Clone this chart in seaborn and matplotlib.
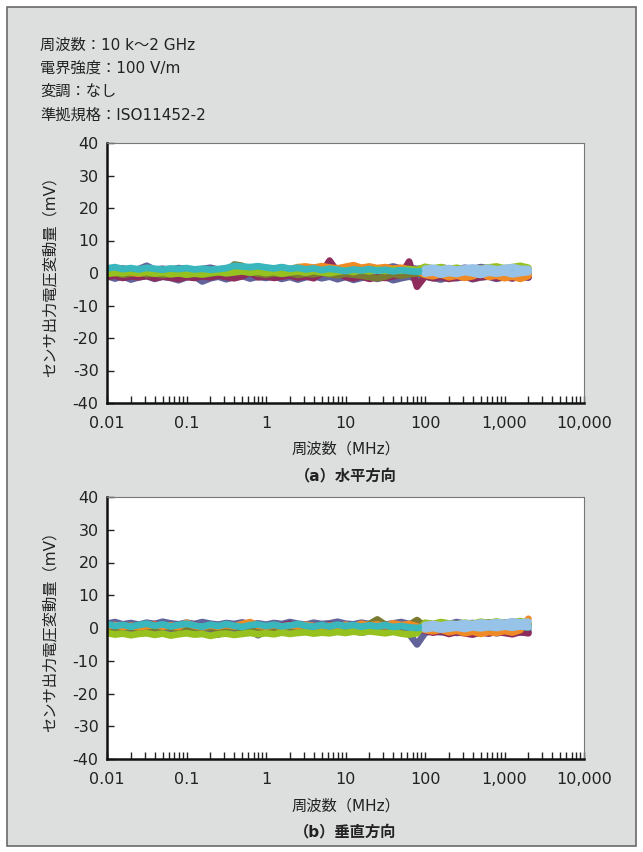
import matplotlib
matplotlib.use("Agg")
import matplotlib.pyplot as plt
import seaborn as sns
import pandas as pd
from matplotlib.patches import Rectangle
from matplotlib.ticker import FixedLocator, NullFormatter

# ---------------- data ----------------
FREQ = [0.01, 0.0126, 0.0158, 0.02, 0.0251, 0.0316, 0.0398, 0.0501, 0.0631, 0.0794,
        0.1, 0.126, 0.158, 0.2, 0.251, 0.316, 0.398, 0.501, 0.631, 0.794,
        1, 1.26, 1.58, 2, 2.51, 3.16, 3.98, 5.01, 6.31, 7.94,
        10, 12.6, 15.8, 20, 25.1, 31.6, 39.8, 50.1, 63.1, 79.4,
        100, 126, 158, 200, 251, 316, 398, 501, 631, 794,
        1000, 1260, 1580, 2000]
LB_FREQ = [100, 126, 158, 200, 251, 316, 398, 501, 631, 794, 1000, 1260, 1580, 2000]

X_TICKS = [0.01, 0.1, 1, 10, 100, 1000, 10000]
X_TICK_LABELS = ["0.01", "0.1", "1", "10", "100", "1,000", "10,000"]
Y_TICKS = [-40, -30, -20, -10, 0, 10, 20, 30, 40]
Y_TICK_LABELS = ["-40", "-30", "-20", "-10", "0", "10", "20", "30", "40"]

# (a) horizontal
A_SLATE_LO = [-0.9, -1.7, -1.0, -2.0, -1.3, -0.9, -1.8, -1.1, -1.5, -2.2,
              -1.3, -1.0, -2.6, -1.6, -1.1, -1.9, -1.2, -0.9, -1.7, -1.1,
              -1.5, -1.0, -1.8, -1.2, -2.0, -1.3, -0.9, -1.6, -1.1, -1.9,
              -1.2, -2.1, -1.5, -1.0, -1.8, -1.2, -2.2, -1.6, -1.1, -1.7,
              -1.0, -1.5, -2.0, -1.2, -1.6, -1.0, -1.9, -1.3, -1.1, -1.8,
              -1.2, -1.6, -1.0, -1.4]
A_SLATE_HI = [1.0, 0.6, 1.4, 0.8, 1.2, 2.2, 1.0, 1.3, 0.9, 1.5,
              1.1, 0.7, 1.2, 1.6, 1.0, 1.4, 1.1, 1.8, 1.3, 1.0,
              1.5, 1.2, 1.7, 1.1, 1.3, 0.9, 1.6, 1.2, 1.9, 1.4,
              1.0, 1.5, 1.2, 1.8, 1.1, 1.4, 2.0, 1.3, 1.6, 1.2,
              1.5, 1.1, 1.7, 1.3, 1.0, 1.6, 1.2, 1.8, 1.4, 1.1,
              1.5, 1.2, 1.6, 1.0]
A_MAROON = [-1.2, -0.8, -1.5, -1.0, -1.3, -0.9, -1.6, -1.1, -1.4, -1.8,
            -1.2, -1.5, -1.0, -1.3, -0.8, -1.2, -1.6, -1.0, 0.2, -1.3,
            -1.0, -1.5, -1.1, -0.7, -1.4, -1.0, -1.6, 0.0, 3.8, 0.2,
            -1.2, -1.6, -1.0, -1.8, -1.3, -1.5, -1.0, -0.6, 3.5, -4.2,
            -1.0, -1.6, -1.2, -1.8, -1.4, -1.1, -1.7, -1.3, -1.0, -1.5,
            -1.2, -1.6, -1.1, -1.3]
A_OLIVE = [-0.3, 0.0, -0.5, -0.2, 0.1, -0.4, -0.1, -0.6, -0.2, 0.0,
           -0.4, -0.1, -0.5, -0.2, 0.2, 0.5, 2.6, 2.2, 0.4, -0.2,
           -0.5, -0.1, -0.3, 0.0, -0.6, -0.2, -0.4, 0.1, -0.3, -0.7,
           -0.2, -0.5, -0.8, -1.2, -1.6, -1.1, -0.3, -0.8, -0.4, -0.1,
           -0.5, -0.2, -0.6, -0.3, 0.0, -0.4, -0.1, -0.5, -0.2, -0.6,
           -0.3, 0.0, -0.4, -0.2]
A_ORANGE = [0.3, 0.0, 0.5, 0.2, -0.2, 0.4, 0.1, 0.6, 0.2, -0.1,
            0.3, 0.0, 0.5, 0.8, 0.3, 0.6, 1.0, 0.7, 1.2, 0.9,
            1.3, 1.0, 1.5, 1.1, 1.8, 2.0, 1.6, 2.1, 1.7, 1.4,
            1.9, 2.4, 1.6, 2.0, 1.5, 1.8, 1.3, 1.6, 1.1, 0.8,
            -0.6, -1.0, -0.4, -1.3, -0.8, -1.5, -1.0, 0.0, -1.2, -0.8,
            -1.6, -1.1, -1.8, -0.9]
A_GREEN = [-0.3, 0.2, -0.1, 0.4, 0.0, 0.3, -0.2, 0.1, -0.4, -0.1,
           -0.5, -0.2, -0.4, 0.0, 0.3, -0.1, 0.2, 0.5, 0.1, 0.4,
           0.0, 0.3, -0.2, 0.2, 0.5, 0.1, 0.6, 0.2, -0.1, 0.4,
           0.8, 0.3, 0.9, 0.5, 1.1, 0.6, 1.0, 0.7, 1.2, 0.9,
           1.9, 1.4, 1.8, 1.2, 1.6, 1.0, 1.5, 1.3, 1.7, 2.0,
           1.4, 1.8, 2.2, 1.6]
A_TEAL = [1.4, 1.8, 1.2, 1.5, 1.1, 1.6, 1.3, 1.0, 1.4, 1.2,
          1.5, 1.1, 1.3, 1.0, 1.2, 1.5, 2.2, 2.0, 1.8, 2.1,
          1.7, 1.4, 1.8, 1.3, 1.6, 1.1, 1.4, 0.9, 1.3, 1.0,
          0.6, 1.1, 0.8, 1.2, 0.7, 1.0, 0.5, 0.9, 0.6, 0.4,
          0.6, 0.9, 0.4, 0.8, 1.1, 0.5, 0.9, 0.6, 1.0, 0.7,
          0.5, 0.8, 1.0, 0.6]
A_LBLUE_1 = [1.3, 1.6, 1.1, 1.5, 1.0, 1.4, 1.7, 1.2, 1.6, 1.1, 1.5, 1.8, 1.3, 1.2]
A_LBLUE_2 = [-0.2, 0.2, -0.5, 0.0, -0.3, 0.3, -0.1, -0.6, 0.1, -0.2, 0.2, -0.4, 0.0, 0.3]

# (b) vertical
B_SLATE_LO = [-0.6, -1.0, -0.5, -1.2, -0.8, -0.4, -1.1, -0.7, -1.3, -0.9,
              -0.5, -1.0, -0.7, -1.2, -2.0, -0.8, -0.5, -1.1, -0.7, -2.2,
              -0.9, -0.6, -1.2, -0.8, -0.5, -1.0, -0.7, -1.3, -0.9, -0.6,
              -1.1, -0.8, -1.4, -0.9, -0.6, -1.2, -0.8, -1.1, -1.8, -5.0,
              -1.5, -0.8, -1.3, -0.9, -1.5, -1.1, -0.7, -1.3, -1.0, -1.6,
              -1.2, -0.8, -1.4, -1.0]
B_SLATE_HI = [1.3, 1.8, 1.1, 1.5, 1.0, 1.6, 1.2, 1.9, 1.4, 1.1,
              1.6, 1.2, 1.8, 1.3, 1.0, 1.5, 1.2, 1.7, 1.1, 1.4,
              1.0, 1.5, 1.2, 1.8, 1.3, 1.0, 1.6, 1.2, 1.4, 1.9,
              1.3, 1.1, 1.6, 1.2, 1.5, 1.0, 1.4, 1.8, 1.2, 1.0,
              1.4, 1.1, 1.6, 1.2, 1.8, 1.3, 1.5, 1.1, 1.7, 1.3,
              1.6, 1.9, 1.4, 1.2]
B_MAROON = [0.8, 0.3, 1.1, 0.5, 0.0, 0.7, 1.2, 0.4, 0.9, 0.2,
            0.6, 1.0, 0.3, 0.8, 0.1, 0.5, 0.9, 0.2, 0.6, 1.1,
            0.4, 0.0, 0.7, 1.3, 0.5, 0.9, 0.2, 0.6, 1.0, 0.4,
            0.8, 0.3, 1.2, 0.6, 1.4, 0.9, 0.5, 0.2, 0.7, 0.3,
            -0.8, -1.4, -1.0, -1.8, -1.2, -1.6, -2.0, -1.3, -1.7, -1.1,
            -1.5, -1.9, -1.2, -1.6]
B_OLIVE = [0.2, -0.2, 0.4, 0.0, -0.3, 0.3, -0.1, 0.5, 0.1, -0.2,
           0.2, -0.1, 0.4, 0.0, -0.3, 0.1, 0.3, -0.2, 0.2, 0.0,
           -0.2, 0.3, 0.0, 0.4, -0.1, 0.2, 0.5, 0.1, -0.2, 0.3,
           0.0, 0.4, 0.6, 1.2, 2.6, 1.0, 0.3, 0.6, 0.9, 2.4,
           0.5, 0.2, 0.7, 0.3, 0.0, 0.5, 0.2, 0.6, 0.1, 0.4,
           0.7, 0.3, 0.5, 0.2]
B_ORANGE = [0.5, 0.9, 0.3, 0.7, 0.2, 0.6, 1.0, 0.4, 0.8, 0.3,
            1.6, 0.6, 0.2, 0.8, 0.4, 0.9, 0.5, 1.2, 1.8, 0.7,
            0.4, 0.9, 0.3, 0.8, 0.5, 1.0, 0.6, 0.2, 0.7, 0.4,
            1.0, 0.5, 1.3, 0.8, 1.1, 0.6, 1.4, 0.9, 1.2, 0.5,
            -0.6, -1.0, -0.5, -1.3, -0.8, -1.6, -1.1, -1.8, -1.2, -1.5,
            -0.9, -1.4, -0.6, 2.8]
B_GREEN = [-1.5, -2.0, -1.7, -2.2, -1.8, -1.6, -2.1, -1.7, -2.3, -1.9,
           -1.6, -2.0, -1.8, -2.4, -1.9, -1.7, -2.1, -1.8, -1.5, -1.9,
           -1.6, -1.9, -1.4, -1.8, -1.5, -1.3, -1.7, -1.4, -1.6, -1.2,
           -1.5, -1.1, -1.4, -1.0, -1.3, -1.6, -1.2, -1.7, -2.0, -1.6,
           1.6, 1.2, 1.8, 1.4, 1.1, 1.6, 1.3, 1.9, 1.5, 2.0,
           1.4, 1.7, 2.1, 1.5]
B_TEAL = [1.2, 0.6, 1.0, 0.4, 0.9, 1.3, 0.7, 1.1, 0.5, 0.9,
          1.3, 0.8, 0.4, 1.0, 0.6, 1.2, 0.7, 0.3, 0.9, 1.1,
          0.6, 1.0, 0.5, 0.8, 1.2, 0.7, 0.4, 0.9, 0.5, 1.0,
          0.6, 0.9, 0.4, 0.8, 0.5, 0.9, 0.3, 0.6, 0.2, 0.0,
          0.3, 0.1, 0.4, 0.2, 0.5, 0.1, 0.3, 0.6, 0.2, 0.4,
          0.7, 0.3, 0.5, 0.2]
B_LBLUE_1 = [0.9, 1.2, 0.8, 1.3, 1.1, 1.5, 1.2, 1.7, 1.4, 1.8, 1.5, 2.0, 1.7, 1.9]
B_LBLUE_2 = [-0.4, 0.0, -0.5, -0.2, 0.1, -0.3, 0.2, -0.1, 0.3, 0.0, 0.4, 0.1, 0.5, 0.3]

SERIES_ORDER = ["slate_lo", "slate_hi", "maroon", "olive", "orange", "green", "teal", "lblue_1", "lblue_2"]
PALETTE = {"slate_lo": "#62639b", "slate_hi": "#62639b", "maroon": "#8e2c5c",
           "olive": "#7b7a33", "orange": "#f08a24", "green": "#96c11f",
           "teal": "#3ab7bd", "lblue_1": "#98c3e8", "lblue_2": "#98c3e8"}

PANELS = {
    "a": {"slate_lo": A_SLATE_LO, "slate_hi": A_SLATE_HI, "maroon": A_MAROON, "olive": A_OLIVE,
          "orange": A_ORANGE, "green": A_GREEN, "teal": A_TEAL,
          "lblue_1": A_LBLUE_1, "lblue_2": A_LBLUE_2},
    "b": {"slate_lo": B_SLATE_LO, "slate_hi": B_SLATE_HI, "maroon": B_MAROON, "olive": B_OLIVE,
          "orange": B_ORANGE, "green": B_GREEN, "teal": B_TEAL,
          "lblue_1": B_LBLUE_1, "lblue_2": B_LBLUE_2},
}
CAPTIONS = {"a": "（a）水平方向", "b": "（b）垂直方向"}
INFO_LINES = ["周波数：10 k～2 GHz", "電界強度：100 V/m", "変調：なし", "準拠規格：ISO11452-2"]
X_LABEL = "周波数（MHz）"
Y_LABEL = "センサ出力電圧変動量（mV）"


def panel_frame(values):
    rows = []
    for name in SERIES_ORDER:
        ys = values[name]
        xs = LB_FREQ if name.startswith("lblue") else FREQ
        for f, v in zip(xs, ys):
            rows.append({"freq": f, "mV": v, "series": name})
    return pd.DataFrame(rows)


# ---------------- style ----------------
sns.set_style("white")
plt.rcParams["font.family"] = ["DejaVu Sans", "Noto Sans CJK JP"]
TXT = "#222222"

W, H = 643, 852
fig = plt.figure(figsize=(W / 100, H / 100), dpi=100)
fig.patch.set_facecolor("white")
fig.patches.append(Rectangle((7 / W, 1 - 846 / H), 629 / W, 839 / H, transform=fig.transFigure,
                             facecolor="#dddede", edgecolor="#6a6a6a", linewidth=1.2, zorder=-10))

for i, line in enumerate(INFO_LINES):
    fig.text(40 / W, 1 - (45 + i * 23.3) / H, line, ha="left", va="center", fontsize=11, color=TXT)

AX_LEFT, AX_RIGHT = 107, 584
layout = {"a": (143, 403, 449, 476), "b": (497, 759, 806, 832)}

for key, (top, bottom, xl_y, cap_y) in layout.items():
    ax = fig.add_axes([AX_LEFT / W, 1 - bottom / H, (AX_RIGHT - AX_LEFT) / W, (bottom - top) / H])
    ax.set_facecolor("white")
    df = panel_frame(PANELS[key])
    sns.lineplot(data=df, x="freq", y="mV", hue="series", hue_order=SERIES_ORDER, palette=PALETTE,
                 estimator=None, sort=True, legend=False, linewidth=4.9, ax=ax,
                 solid_capstyle="round", solid_joinstyle="round")
    ax.set_xscale("log")
    ax.set_xlim(0.01, 10000)
    ax.set_ylim(-40, 40)
    ax.xaxis.set_major_locator(FixedLocator(X_TICKS))
    ax.set_xticklabels(X_TICK_LABELS)
    minor = [m * d for d in X_TICKS[:-1] for m in range(2, 10)]
    ax.xaxis.set_minor_locator(FixedLocator(minor))
    ax.xaxis.set_minor_formatter(NullFormatter())
    ax.set_yticks(Y_TICKS)
    ax.set_yticklabels(Y_TICK_LABELS)
    ax.set_xlabel("")
    ax.set_ylabel("")
    ax.tick_params(axis="both", which="both", direction="in", length=5, width=1, color="#222222",
                   labelsize=11.5, labelcolor=TXT, top=False, right=False, bottom=True, left=True)
    ax.tick_params(axis="x", which="both", pad=9)
    ax.tick_params(axis="y", which="both", pad=6)
    for s in ["left", "bottom"]:
        ax.spines[s].set_linewidth(1.8)
        ax.spines[s].set_color("#111111")
    for s in ["top", "right"]:
        ax.spines[s].set_linewidth(0.8)
        ax.spines[s].set_color("#777777")
        ax.spines[s].set_visible(True)
    cx = (AX_LEFT + AX_RIGHT) / 2 / W
    fig.text(cx, 1 - xl_y / H, X_LABEL, ha="center", va="center", fontsize=11, color=TXT)
    fig.text(cx, 1 - cap_y / H, CAPTIONS[key], ha="center", va="center", fontsize=11,
             fontweight="bold", color=TXT)
    fig.text(50 / W, 1 - (top + bottom) / 2 / H, Y_LABEL, ha="center", va="center", rotation=90,
             fontsize=11, color=TXT)

fig.savefig("out.png", dpi=100, facecolor=fig.get_facecolor())
